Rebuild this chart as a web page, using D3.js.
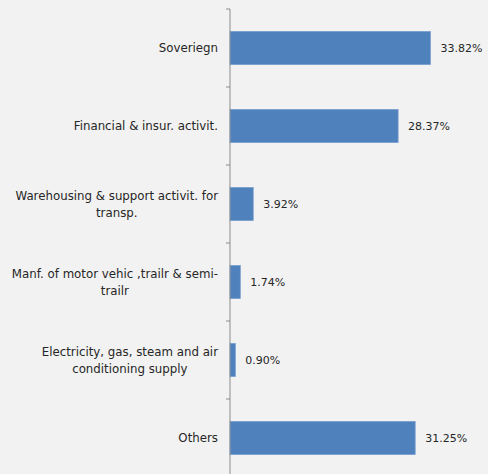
<!DOCTYPE html>
<html>
<head>
<meta charset="utf-8">
<script src="https://cdn.jsdelivr.net/npm/d3@7"></script>
<style>
  html, body { margin: 0; padding: 0; background: #f2f2f2; }
  svg { display: block; }
</style>
</head>
<body>
<svg id="chart" width="488" height="474"></svg>
<script>
// Sector breakdown (share of total, %)
const categories = [
  "Soveriegn",
  "Financial & insur. activit.",
  "Warehousing & support activit. for\ntransp.",
  "Manf. of motor vehic ,trailr & semi-\ntrailr",
  "Electricity, gas, steam and air\nconditioning supply",
  "Others"
];
const values = [33.82, 28.37, 3.92, 1.74, 0.90, 31.25];
const valueLabels = ["33.82%", "28.37%", "3.92%", "1.74%", "0.90%", "31.25%"];

const svg = d3.select("#chart");
const W = 488, H = 474;
const margin = { left: 230, top: 9, right: 0 };
const band = 78;

svg.append("rect").attr("width", W).attr("height", H).attr("fill", "#f2f2f2");

const x = d3.scaleLinear().domain([0, 1]).range([margin.left, margin.left + 592.6]);
const y = d3.scaleBand()
  .domain(categories)
  .range([margin.top, margin.top + band * categories.length])
  .paddingInner(0.575)
  .paddingOuter(0.2875);

const font = "'DejaVu Sans', sans-serif";

// Bars
svg.append("g").selectAll("rect")
  .data(categories)
  .join("rect")
  .attr("x", x(0))
  .attr("y", d => y(d))
  .attr("width", (d, i) => x(values[i] / 100) - x(0))
  .attr("height", y.bandwidth())
  .attr("fill", "#4f81bd")
  .attr("stroke", "#7ba0cf")
  .attr("stroke-width", 0.8);

// Value labels
svg.append("g").selectAll("text")
  .data(categories)
  .join("text")
  .attr("x", (d, i) => x(values[i] / 100) + 10)
  .attr("y", d => y(d) + y.bandwidth() / 2)
  .attr("dy", "0.35em")
  .attr("font-family", font)
  .attr("font-size", 11)
  .attr("fill", "#262626")
  .text((d, i) => valueLabels[i]);

// Category axis
const axis = d3.axisLeft(y).tickSize(0).tickFormat("");
const gAxis = svg.append("g")
  .attr("transform", `translate(${margin.left},0)`)
  .call(axis);
gAxis.select(".domain").remove();

gAxis.append("line")
  .attr("x1", 0).attr("x2", 0)
  .attr("y1", margin.top).attr("y2", H)
  .attr("stroke", "#8c8c8c").attr("stroke-width", 1);

// Boundary ticks between categories
const boundaries = d3.range(categories.length + 1).map(i => margin.top + i * band);
gAxis.selectAll(".boundary")
  .data(boundaries)
  .join("line")
  .attr("class", "boundary")
  .attr("x1", -4).attr("x2", 0)
  .attr("y1", d => d).attr("y2", d => d)
  .attr("stroke", "#8c8c8c").attr("stroke-width", 1);

// Category labels (multi-line, block right-aligned to the axis, lines centred)
const labels = svg.append("g").selectAll("text")
  .data(categories)
  .join("text")
  .attr("text-anchor", "middle")
  .attr("font-family", font)
  .attr("font-size", 11.8)
  .attr("fill", "#262626");

labels.each(function(d) {
  const lines = d.split("\n");
  const t = d3.select(this);
  const lh = 17;
  const cy = y(d) + y.bandwidth() / 2;
  const y0 = cy - (lines.length - 1) * lh / 2;
  t.selectAll("tspan")
    .data(lines)
    .join("tspan")
    .attr("y", (l, i) => y0 + i * lh)
    .attr("dy", "0.35em")
    .text(l => l);
  const widths = [];
  t.selectAll("tspan").each(function() { widths.push(this.getComputedTextLength()); });
  const maxW = d3.max(widths);
  const right = margin.left - 12;
  t.selectAll("tspan").attr("x", right - maxW / 2);
});
</script>
</body>
</html>
